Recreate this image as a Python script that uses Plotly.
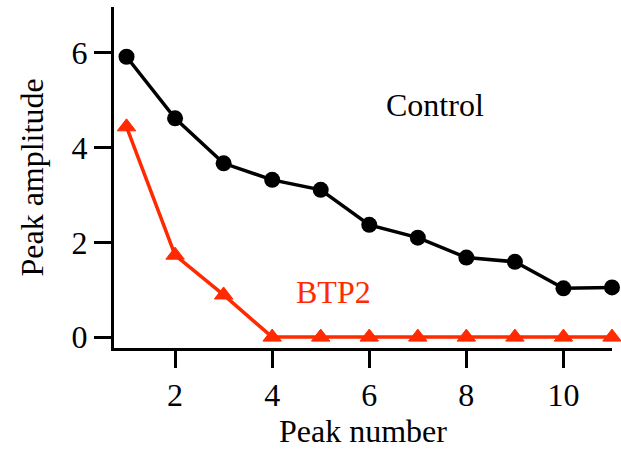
import plotly.graph_objects as go

peak_number = [1, 2, 3, 4, 5, 6, 7, 8, 9, 10, 11]
control = [5.92, 4.62, 3.67, 3.32, 3.11, 2.37, 2.10, 1.68, 1.59, 1.03, 1.05]
btp2 = [4.44, 1.73, 0.89, 0, 0, 0, 0, 0, 0, 0, 0]

x_ticks = [2, 4, 6, 8, 10]
y_ticks = [0, 2, 4, 6]

RED = "#ff2a00"
FONT = "Times New Roman, serif"
FS = 32

fig = go.Figure()
fig.add_trace(go.Scatter(
    x=peak_number, y=btp2, mode="lines+markers", name="BTP2",
    line=dict(color=RED, width=3.5),
    marker=dict(symbol="triangle-up", size=16, color=RED,
                line=dict(width=1, color=RED)),
    cliponaxis=False,
))
fig.add_trace(go.Scatter(
    x=peak_number, y=control, mode="lines+markers", name="Control",
    line=dict(color="black", width=3.5),
    marker=dict(symbol="circle", size=16, color="black"),
    cliponaxis=False,
))

fig.add_annotation(x=7.35, y=4.9, text="Control", showarrow=False,
                   font=dict(family=FONT, size=FS, color="black"))
fig.add_annotation(x=5.27, y=0.95, text="BTP2", showarrow=False,
                   font=dict(family=FONT, size=FS, color=RED))

axis_common = dict(
    showline=True, linecolor="black", linewidth=3,
    ticks="outside", ticklen=17, tickwidth=3, tickcolor="black",
    showgrid=False, zeroline=False,
    tickfont=dict(family=FONT, size=FS, color="black"),
)

fig.update_xaxes(range=[0.742, 11.0], tickvals=x_ticks,
                 title=dict(text="Peak number", standoff=6,
                            font=dict(family=FONT, size=FS, color="black")),
                 **axis_common)
fig.update_yaxes(range=[-0.23, 6.97], tickvals=y_ticks,
                 title=dict(text="Peak amplitude", standoff=19,
                            font=dict(family=FONT, size=FS, color="black")),
                 **axis_common)

fig.update_layout(
    width=621, height=457,
    margin=dict(l=114, r=9, t=7, b=109),
    plot_bgcolor="white", paper_bgcolor="white",
    showlegend=False,
    font=dict(family=FONT),
)

fig.write_html("out.html")
